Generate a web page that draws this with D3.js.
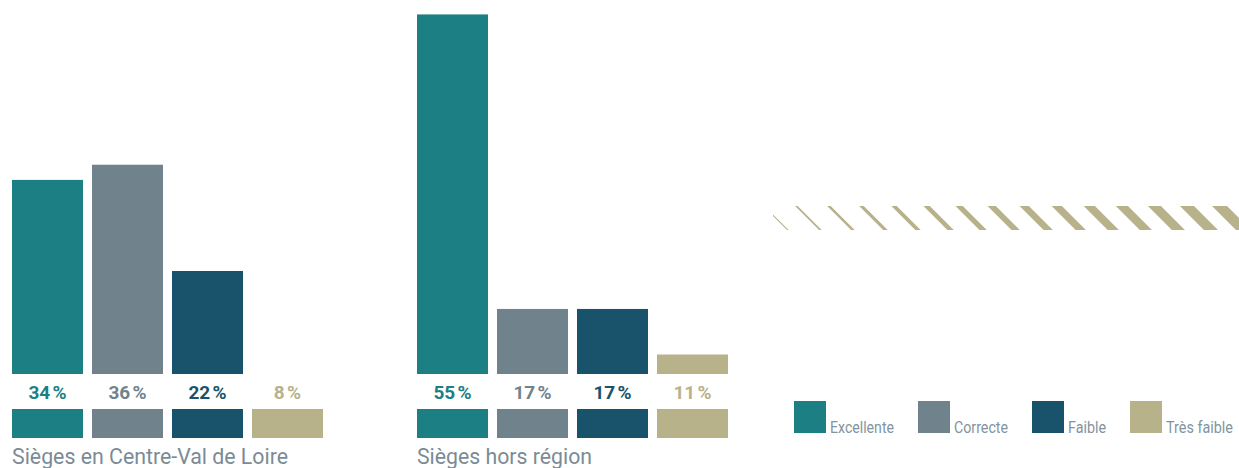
<!DOCTYPE html>
<html><head><meta charset="utf-8">
<script src="https://cdn.jsdelivr.net/npm/d3@7"></script>
<style>
html,body{margin:0;padding:0;background:#fff;}
svg{display:block;}
</style></head>
<body>
<svg id="chart" width="1239" height="468"></svg>
<script>
// ---- data ----
const categories = ["Excellente", "Correcte", "Faible", "Très faible"];
const colors = ["#1b7f84", "#70838d", "#18536b", "#b8b28b"];
const groupTitles = ["Sièges en Centre-Val de Loire", "Sièges hors région"];
const valuesCentre = [34, 36, 22, 8];
const valuesHors = [55.8, 17, 17, 11];
const labelsCentre = ["34\u202f%", "36\u202f%", "22\u202f%", "8\u202f%"];
const labelsHors = ["55\u202f%", "17\u202f%", "17\u202f%", "11\u202f%"];

const svg = d3.select("#chart");
const baseY = 438;
const y = d3.scaleLinear().domain([0, 57.7]).range([baseY, 0]);
const color = d3.scaleOrdinal().domain(categories).range(colors);

const groups = [
  {title: groupTitles[0], values: valuesCentre, labels: labelsCentre, range: [12, 323], titleLen: 276},
  {title: groupTitles[1], values: valuesHors, labels: labelsHors, range: [417, 728], titleLen: 175}
];

const bandTop = 374, bandBottom = 409;

groups.forEach(gr => {
  const x = d3.scaleBand().domain(categories).range(gr.range).paddingInner(9/80).paddingOuter(0);
  const g = svg.append("g");
  const data = categories.map((c, i) => ({c, v: gr.values[i], label: gr.labels[i]}));
  g.selectAll("rect.bar").data(data).join("rect")
    .attr("class", "bar")
    .attr("x", d => x(d.c))
    .attr("width", x.bandwidth())
    .attr("y", d => y(d.v))
    .attr("height", d => baseY - y(d.v))
    .attr("fill", d => color(d.c));
  g.selectAll("rect.band").data(data).join("rect")
    .attr("class", "band")
    .attr("x", d => x(d.c))
    .attr("width", x.bandwidth())
    .attr("y", bandTop)
    .attr("height", bandBottom - bandTop)
    .attr("fill", "#ffffff");
  g.selectAll("text.lbl").data(data).join("text")
    .attr("class", "lbl")
    .attr("x", d => x(d.c) + x.bandwidth() / 2)
    .attr("y", 399)
    .attr("text-anchor", "middle")
    .attr("font-family", "Roboto, sans-serif")
    .attr("font-weight", 700)
    .attr("font-size", 19)
    .attr("letter-spacing", -0.5)
    .attr("fill", d => color(d.c))
    .text(d => d.label);
  g.append("text")
    .attr("x", gr.range[0])
    .attr("y", 464)
    .attr("font-family", "Roboto, sans-serif")
    .attr("font-size", 22)
    .attr("fill", "#7b8b96")
    .attr("textLength", gr.titleLen)
    .attr("lengthAdjust", "spacingAndGlyphs")
    .text(gr.title);
});

// ---- decorative hatched band ----
const defs = svg.append("defs");
defs.append("clipPath").attr("id", "hclip")
  .append("rect").attr("x", 773).attr("y", 200).attr("width", 466).attr("height", 40);
const stripeIdx = d3.range(15);
const sx = d3.scaleLinear().domain([0, 14]).range([763, 1212]);
const sw = d3.scaleLinear().domain([0, 14]).range([1.6, 15]);
const yT = 206, yB = 230, dx = yB - yT;
svg.append("g").attr("clip-path", "url(#hclip)")
  .selectAll("polygon").data(stripeIdx).join("polygon")
  .attr("points", i => {
    const x0 = sx(i), w = sw(i);
    return [[x0, yT], [x0 + w, yT], [x0 + w + dx, yB], [x0 + dx, yB]].map(p => p.join(",")).join(" ");
  })
  .attr("fill", "#b8b28b");

// ---- legend ----
const legend = svg.append("g");
let lx = 794;
const legendTextLen = {"Excellente": 64, "Correcte": 54, "Faible": 38, "Très faible": 67};
categories.forEach((c, i) => {
  const item = legend.append("g");
  item.append("rect").attr("x", lx).attr("y", 401).attr("width", 32).attr("height", 32).attr("fill", color(c));
  item.append("text")
    .attr("x", lx + 36).attr("y", 433)
    .attr("font-family", "Roboto, sans-serif")
    .attr("font-size", 16)
    .attr("fill", "#8294a0")
    .attr("textLength", legendTextLen[c])
    .attr("lengthAdjust", "spacingAndGlyphs")
    .text(c);
  lx = lx + 36 + legendTextLen[c] + 24;
});
</script>
</body></html>
